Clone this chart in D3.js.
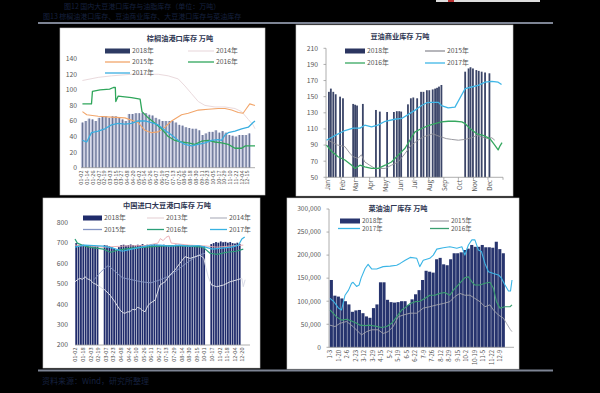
<!DOCTYPE html>
<html>
<head>
<meta charset="utf-8">
<script src="https://cdn.jsdelivr.net/npm/d3@7"></script>
<style>
  body { margin: 0; background: #000; }
  svg { display: block; font-family: "Noto Sans CJK SC", "Noto Sans", sans-serif; }
</style>
</head>
<body>
<div id="root"></div>
<script>
// ---- chart 1: palm oil port stocks (万吨) ----
const PALM_TICKS = ['01-02', '01-14', '01-26', '02-07', '02-19', '03-03', '03-15', '03-27', '04-08', '04-20',
  '05-02', '05-14', '05-26', '06-07', '06-19', '07-01', '07-13', '07-25', '08-06', '08-18',
  '08-30', '09-11', '09-23', '10-05', '10-17', '10-29', '11-10', '11-22', '12-04', '12-15'];
const PALM_Y_TICKS = [0, 20, 40, 60, 80, 100, 120, 140];
// weekly bars, first one on day 3
const PALM_2018 = [58, 60, 63, 62, 60, 64, 66, 66, 64, 66, 66, 65, 62, 60, 69, 69, 70, 70, 71, 70,
  68, 67, 64, 62, 60, 60, 60, 60, 58, 55, 54, 52, 51, 50, 50, 48, 42, 44, 46, 46,
  48, 45, 47, 45, 42, 41, 40, 42, 42, 42, 44];
// [day of year, value]
const PALM_2014 = [[3, 112], [36, 116], [64, 118], [106, 120], [134, 120], [162, 120], [183, 118], [204, 114],
  [218, 105], [232, 95], [246, 85], [260, 80], [281, 78], [302, 78], [323, 76], [337, 72], [351, 62], [361, 55], [365, 50]];
const PALM_2015 = [[3, 72], [12, 68], [36, 66], [64, 65], [92, 64], [120, 58], [134, 48], [148, 45], [162, 46],
  [176, 52], [190, 60], [211, 68], [225, 70], [246, 74], [267, 75], [288, 76], [302, 76], [316, 74],
  [330, 71], [340, 70], [347, 76], [354, 82], [365, 80]];
const PALM_2016 = [[3, 82], [22, 82], [24, 98], [40, 100], [60, 101], [68, 103], [72, 103], [73, 85], [78, 92],
  [106, 90], [124, 88], [128, 72], [141, 64], [155, 57], [169, 50], [183, 40], [197, 35], [211, 33],
  [225, 32], [239, 30], [253, 34], [267, 35], [281, 33], [295, 32], [309, 30], [323, 25], [337, 25], [345, 28], [365, 28]];
const PALM_2017 = [[3, 35], [12, 33], [22, 45], [36, 47], [50, 50], [64, 55], [78, 57], [92, 56], [106, 57],
  [120, 60], [134, 60], [148, 58], [162, 55], [176, 48], [190, 42], [204, 35], [218, 30], [232, 28],
  [246, 30], [260, 32], [274, 35], [288, 36], [295, 35], [302, 42], [309, 45], [323, 47], [337, 50],
  [351, 52], [361, 58], [365, 60]];

// ---- chart 2: soybean oil commercial stocks (万吨) ----
const MONTHS = ['Jan', 'Feb', 'Mar', 'Apr', 'May', 'Jun', 'Jul', 'Aug', 'Sep', 'Oct', 'Nov', 'Dec'];
const SOY_OIL_Y_TICKS = [50, 70, 90, 110, 130, 150, 170, 190, 210];
const SOY_OIL_BAR_DAYS = [6, 10, 15, 20, 29, 35, 56, 60, 64, 76, 103, 111, 126, 140, 146, 151, 155, 169, 175, 180,
  188, 196, 201, 208, 213, 220, 225, 229, 233, 238, 287, 294, 298, 303, 310, 315, 321, 328, 337];
const SOY_OIL_2018 = [156, 160, 156, 153, 150, 148, 141, 140, 139, 141, 133.5, 131.5, 131, 131, 132, 132, 131.5, 140.5, 148, 149,
  148, 156, 156, 158, 158, 159, 160, 161, 162.5, 164.5, 181, 185, 186.5, 185, 183, 182, 181, 180, 179];
const SOY_OIL_2015 = [[4, 96], [24, 90], [39, 88], [49, 80], [56, 75.5], [66, 73.5], [73, 78], [80, 69], [90, 65],
  [101, 61], [111, 61], [122, 61], [135, 65], [149, 69], [163, 79.6], [176, 90], [190, 96], [200, 100],
  [211, 102], [221, 104], [228, 102], [238, 100], [248, 98], [259, 97], [273, 96], [287, 97], [300, 99],
  [311, 102], [321, 100], [331, 98], [342, 99], [348, 96]];
const SOY_OIL_2016 = [[1, 90], [12, 82], [25, 75.5], [39, 71.5], [53, 65], [60, 61], [70, 65], [80, 63], [94, 61],
  [108, 61], [122, 65], [135, 69], [149, 77.5], [163, 86], [173, 96], [183, 106], [197, 110.5], [211, 114],
  [225, 116.5], [238, 118.7], [252, 119.5], [266, 119.5], [280, 118.7], [287, 116.5], [297, 110.5],
  [311, 104], [324, 102], [338, 98], [348, 90], [355, 84], [358, 88], [363, 93]];
const SOY_OIL_2017 = [[1, 96], [19, 102], [39, 108], [56, 111], [70, 111], [80, 114.6], [94, 112.5], [108, 115],
  [122, 119.5], [142, 122], [156, 123], [170, 128], [183, 133], [197, 139], [208, 142.5], [218, 143],
  [232, 143], [238, 139], [252, 136], [266, 137], [276, 148], [287, 160], [300, 162], [314, 164],
  [328, 168], [342, 169], [355, 168], [362, 165]];

// ---- chart 3: imported soybean port stocks (万吨) ----
const BEAN_TICKS = ['01-02', '01-18', '02-03', '02-19', '03-07', '03-23', '04-08', '04-24', '05-10', '05-26',
  '06-11', '06-27', '07-13', '07-29', '08-14', '08-30', '09-15', '10-01', '10-17', '11-02', '11-18', '12-04', '12-20'];
const BEAN_Y_TICKS = [200, 300, 400, 500, 600, 700, 800];
// one bar every 5 days, null = no report
const BEAN_2018 = [700, 690, 688, 692, 690, 685, 688, 690, 686, 684,
  null, null,
  690, 688, 685, 680, 672, 668, 680, 690, 692, 688, 690, 693, 690, 688, 692, 690, 695, 690, 692, 688,
  690, 694, 692, 690, 688, 692, 690, 688, 686, 690, 692, 688, 690, 685, 688, 690, 686, 688, 684, 686,
  688, 685, 684,
  null, null,
  695, 700, 705, 702, 708, 704, 706, 702, 705, 700, 698, 702, 696];
const BEAN_2013 = [[0, 690], [30, 685], [60, 680], [100, 685], [150, 688], [175, 700], [180, 722], [186, 712],
  [192, 728], [198, 735], [203, 700], [240, 690], [275, 686], [300, 680], [340, 688], [355, 690]];
const BEAN_2014 = [[0, 510], [5, 520], [10, 527], [16, 522], [21, 535], [26, 525], [32, 519], [39, 503], [44, 498],
  [63, 470], [74, 445], [84, 412], [95, 372], [100, 360], [105, 355], [110, 362], [116, 363], [121, 375],
  [127, 372], [132, 385], [137, 380], [142, 370], [148, 363], [153, 390], [158, 404], [169, 420],
  [179, 494], [190, 510], [200, 543], [211, 568], [221, 600], [232, 633], [243, 625], [253, 633],
  [264, 641], [272, 625], [276, 580], [281, 535], [288, 494], [299, 486], [313, 494], [327, 510],
  [341, 519], [352, 527], [355, 486], [359, 520]];
const BEAN_2015 = [[40, 520], [55, 560], [70, 590], [85, 560], [100, 530], [120, 520], [140, 510], [160, 505],
  [180, 520], [200, 540], [220, 575], [240, 610], [260, 640], [274, 650]];
const BEAN_2016 = [[0, 720], [5, 700], [15, 690], [30, 680], [45, 675], [60, 670], [75, 655], [90, 665],
  [105, 670], [120, 675], [150, 680], [180, 685], [210, 688], [240, 685], [270, 680], [285, 650],
  [300, 645], [320, 655], [340, 660], [355, 670]];
const BEAN_2017 = [[0, 680], [20, 690], [40, 688], [60, 685], [80, 675], [100, 660], [120, 670], [140, 680],
  [160, 690], [180, 690], [200, 685], [220, 690], [240, 685], [260, 688], [275, 680], [290, 670],
  [310, 675], [330, 680], [345, 690], [352, 720], [358, 730]];

// ---- chart 4: rapeseed oil mill stocks (吨) ----
const RAPE_TICKS = ['1-3', '1-20', '2-6', '2-23', '3-12', '3-29', '4-15', '5-2', '5-19', '6-5', '6-22',
  '7-9', '7-26', '8-12', '8-29', '9-15', '10-2', '10-19', '11-5', '11-22', '12-9'];
const RAPE_Y_TICKS = [0, 50000, 100000, 150000, 200000, 250000, 300000];
// weekly bars, first one on day 2
const RAPE_2018 = [146000, 112000, 110000, 106000, 100000, 93000, 77000, 80000, 81000, 74000,
  67000, 64000, 85000, 93000, 141000, 141000, 103000, 98000, 97000, 98000,
  100000, 100000, 92000, 104000, 115000, 124000, 146000, 166000, 164000, 162000,
  191000, 194000, 180000, 178000, 191000, 204000, 204000, 206000, 211000, 214000,
  222000, 218000, 218000, 222000, 217000, 217000, 216000, 229000, 213000, 204000];
const RAPE_2015 = [[2, 48000], [12, 45000], [22, 52000], [35, 56000], [48, 45000], [58, 34000], [65, 27000],
  [75, 34000], [85, 38000], [98, 38000], [108, 30000], [118, 34000], [128, 45000], [138, 66000],
  [148, 70000], [162, 74000], [175, 74000], [188, 85000], [201, 88000], [215, 92000], [228, 95000],
  [241, 99000], [251, 110000], [261, 117000], [271, 113000], [281, 113000], [291, 106000],
  [301, 99000], [311, 88000], [321, 92000], [328, 81000], [338, 70000], [348, 63000], [354, 52000],
  [362, 38000], [365, 34000]];
const RAPE_2016 = [[2, 81000], [15, 66000], [25, 59000], [35, 61000], [45, 57000], [55, 52000], [62, 48000],
  [72, 47000], [82, 48000], [92, 46000], [105, 43000], [115, 45000], [125, 52000], [135, 66000],
  [145, 81000], [152, 86000], [162, 95000], [172, 99000], [181, 100000], [191, 106000], [201, 113000],
  [211, 113000], [221, 117000], [231, 119000], [241, 113000], [248, 124000], [255, 132000],
  [261, 139000], [271, 151000], [278, 153000], [285, 142000], [291, 135000], [301, 135000],
  [311, 139000], [321, 141000], [328, 128000], [334, 99000], [341, 85000], [351, 88000], [361, 88000], [365, 92000]];
const RAPE_2017 = [[2, 106000], [9, 100000], [19, 85000], [25, 81000], [32, 113000], [39, 124000], [45, 139000],
  [48, 141000], [55, 132000], [60, 135000], [64, 150000], [72, 171000], [78, 180000], [85, 170000],
  [95, 170000], [108, 175000], [122, 176000], [135, 178000], [142, 182000], [152, 189000], [162, 195000],
  [175, 193000], [181, 175000], [188, 189000], [201, 193000], [208, 200000], [215, 213000], [228, 216000],
  [241, 218000], [255, 215000], [265, 218000], [271, 200000], [278, 222000], [285, 233000], [291, 233000],
  [298, 211000], [304, 208000], [311, 182000], [318, 164000], [328, 160000], [338, 157000], [344, 150000],
  [351, 135000], [358, 122000], [362, 122000], [365, 146000]];

const AXIS_TEXT = '#555';
const DIM_TEXT = '#16213f';
const parseMD = d3.timeParse('%m-%d');
const dayOf = s => {
  const t = parseMD(s);
  return d3.timeDay.count(d3.timeYear(t), t);
};

const svg = d3.select('#root')
  .append('svg')
  .attr('width', 600)
  .attr('height', 393);

svg.append('rect').attr('width', 600).attr('height', 393).attr('fill', '#000');

// page furniture: dim report captions and rules
svg.append('rect').attr('x', 436).attr('y', 0).attr('width', 104).attr('height', 2).attr('fill', '#ddd');
svg.append('rect').attr('x', 448).attr('y', 0).attr('width', 6).attr('height', 2).attr('fill', '#b33');
svg.append('text').attr('x', 64).attr('y', 9).attr('font-size', 7).attr('fill', DIM_TEXT)
  .text('图12  国内大豆港口库存与油脂库存（单位：万吨）');
svg.append('text').attr('x', 43).attr('y', 19).attr('font-size', 7).attr('fill', DIM_TEXT)
  .text('图13      棕榈油港口库存、豆油商业库存、大豆港口库存与菜油库存');
svg.append('rect').attr('x', 38).attr('y', 22).attr('width', 515).attr('height', 2).attr('fill', '#7d8494');
svg.append('rect').attr('x', 38).attr('y', 369.5).attr('width', 515).attr('height', 2).attr('fill', '#7d8494');
svg.append('text').attr('x', 42).attr('y', 384).attr('font-size', 8).attr('fill', DIM_TEXT)
  .text('资料来源：Wind，研究所整理');

function panel(box) {
  const g = svg.append('g');
  g.append('rect')
    .attr('x', box.x).attr('y', box.y)
    .attr('width', box.w).attr('height', box.h)
    .attr('fill', '#fff')
    .attr('stroke', '#c8c8c8')
    .attr('stroke-width', 0.6);
  return g;
}

function title(g, x, y, text) {
  g.append('text')
    .attr('x', x).attr('y', y)
    .attr('text-anchor', 'middle')
    .attr('font-size', 7.2)
    .attr('font-weight', 'bold')
    .attr('fill', '#2e3652')
    .text(text);
}

function yLabels(g, y, ticks, x, fmt, size = 6.8) {
  g.selectAll(null).data(ticks).enter()
    .append('text')
    .attr('x', x)
    .attr('y', d => y(d))
    .attr('dy', '0.35em')
    .attr('text-anchor', 'end')
    .attr('font-size', size)
    .attr('fill', AXIS_TEXT)
    .text(fmt);
}

function xLabels(g, x, labels, pos, y, size) {
  g.selectAll(null).data(labels).enter()
    .append('text')
    .attr('transform', (d, i) => `translate(${x(pos(d, i))}, ${y}) rotate(-90)`)
    .attr('dy', '0.35em')
    .attr('text-anchor', 'end')
    .attr('font-size', size)
    .attr('fill', AXIS_TEXT)
    .text(d => d);
}

function hline(g, x1, x2, y, color = '#9a9a9a') {
  g.append('line')
    .attr('x1', x1).attr('x2', x2).attr('y1', y).attr('y2', y)
    .attr('stroke', color).attr('stroke-width', 0.8);
}

function series(g, x, y, data, color, width = 1.1) {
  g.append('path')
    .datum(data)
    .attr('fill', 'none')
    .attr('stroke', color)
    .attr('stroke-width', width)
    .attr('stroke-linejoin', 'round')
    .attr('d', d3.line().x(d => x(d[0])).y(d => y(d[1])));
}

function legend(g, items, size = 6.8) {
  items.forEach(it => {
    if (it.type === 'bar') {
      g.append('rect')
        .attr('x', it.x).attr('y', it.y - 2.5)
        .attr('width', it.w).attr('height', 5)
        .attr('fill', it.color);
    } else {
      g.append('line')
        .attr('x1', it.x).attr('x2', it.x + it.w)
        .attr('y1', it.y).attr('y2', it.y)
        .attr('stroke', it.color).attr('stroke-width', 1.3);
    }
    g.append('text')
      .attr('x', it.x + it.w + 2)
      .attr('y', it.y)
      .attr('dy', '0.35em')
      .attr('font-size', size)
      .attr('fill', AXIS_TEXT)
      .text(it.label);
  });
}

// ---------- chart 1 ----------
(function palmChart() {
  const g = panel({ x: 60, y: 28, w: 205, h: 167 });
  const x = d3.scaleLinear([0, 365], [81, 255]);
  const y = d3.scaleLinear([0, 140], [167.7, 58.7]);
  title(g, 180, 41, '棕榈油港口库存 万吨');
  yLabels(g, y, PALM_Y_TICKS, 77, d => d);

  // each weekly bar: pale body with a darker core, as in the printed chart
  const bars = g.append('g');
  PALM_2018.forEach((v, i) => {
    const cx = x(3 + i * 7);
    bars.append('rect')
      .attr('x', cx - 1.5).attr('y', y(v))
      .attr('width', 2.9).attr('height', y(0) - y(v))
      .attr('fill', '#bcc0d8');
    bars.append('rect')
      .attr('x', cx - 0.4).attr('y', y(v))
      .attr('width', 1.1).attr('height', y(0) - y(v))
      .attr('fill', '#667293');
  });
  hline(g, 81, 255, y(0));

  series(g, x, y, PALM_2014, '#eadadd', 1);
  series(g, x, y, PALM_2015, '#f2a66b');
  series(g, x, y, PALM_2016, '#2fa65b', 1.3);
  series(g, x, y, PALM_2017, '#3aaee0', 1.3);

  xLabels(g, x, PALM_TICKS, d => dayOf(d), 170.5, 5.6);

  legend(g, [
    { type: 'bar', label: '2018年', color: '#2d3a63', x: 105, y: 51, w: 25 },
    { type: 'line', label: '2014年', color: '#ecdfe2', x: 188, y: 51, w: 26 },
    { type: 'line', label: '2015年', color: '#f2a66b', x: 105, y: 62, w: 25 },
    { type: 'line', label: '2016年', color: '#2fa65b', x: 188, y: 62, w: 26 },
    { type: 'line', label: '2017年', color: '#3aaee0', x: 105, y: 73, w: 25 },
  ]);
})();

// ---------- chart 2 ----------
(function soyOilChart() {
  const g = panel({ x: 296, y: 25, w: 217, h: 171 });
  const x = d3.scaleLinear([0, 365], [326, 503]);
  const y = d3.scaleLinear([50, 210], [177.3, 48.3]);
  title(g, 400, 39, '豆油商业库存 万吨');
  yLabels(g, y, SOY_OIL_Y_TICKS, 318, d => d);

  g.append('line')
    .attr('x1', 326).attr('x2', 326).attr('y1', y(210)).attr('y2', y(50))
    .attr('stroke', '#9a9a9a').attr('stroke-width', 0.8);
  g.selectAll(null).data(SOY_OIL_Y_TICKS).enter()
    .append('line')
    .attr('x1', 323.5).attr('x2', 326)
    .attr('y1', d => y(d)).attr('y2', d => y(d))
    .attr('stroke', '#9a9a9a').attr('stroke-width', 0.8);

  g.selectAll(null).data(SOY_OIL_2018).enter()
    .append('rect')
    .attr('x', (d, i) => x(SOY_OIL_BAR_DAYS[i]) - 0.9)
    .attr('y', d => y(d))
    .attr('width', 1.8)
    .attr('height', d => y(50) - y(d))
    .attr('fill', '#3b4568');
  hline(g, 326, 503, y(50));

  const monthStart = m => d3.timeDay.count(new Date(2018, 0, 1), new Date(2018, m, 1));
  g.selectAll(null).data(d3.range(13)).enter()
    .append('line')
    .attr('x1', m => x(Math.min(365, monthStart(m))))
    .attr('x2', m => x(Math.min(365, monthStart(m))))
    .attr('y1', y(50)).attr('y2', y(50) + 2.5)
    .attr('stroke', '#9a9a9a').attr('stroke-width', 0.8);

  series(g, x, y, SOY_OIL_2015, '#8e8e96', 0.9);
  series(g, x, y, SOY_OIL_2016, '#36a860', 1.3);
  series(g, x, y, SOY_OIL_2017, '#3fb6e6', 1.3);

  xLabels(g, x, MONTHS, (d, i) => monthStart(i) + 3, 180, 6.2);

  legend(g, [
    { type: 'bar', label: '2018年', color: '#2b3560', x: 345, y: 51, w: 20 },
    { type: 'line', label: '2015年', color: '#8e8e96', x: 425, y: 51, w: 20 },
    { type: 'line', label: '2016年', color: '#36a860', x: 345, y: 63, w: 20 },
    { type: 'line', label: '2017年', color: '#3fb6e6', x: 425, y: 63, w: 20 },
  ]);
})();

// ---------- chart 3 ----------
(function beanChart() {
  const g = panel({ x: 43, y: 198, w: 217, h: 170 });
  const x = d3.scaleLinear([0, 365], [75, 248]);
  const y = d3.scaleLinear([200, 800], [345, 222.7]);
  title(g, 167, 208, '中国进口大豆港口库存 万吨');
  yLabels(g, y, BEAN_Y_TICKS, 68, d => d);

  g.selectAll(null).data(BEAN_2018.map((v, i) => [i * 5 + 2.5, v]).filter(d => d[1] !== null)).enter()
    .append('rect')
    .attr('x', d => x(d[0]) - 0.9)
    .attr('y', d => y(d[1]))
    .attr('width', 1.8)
    .attr('height', d => y(200) - y(d[1]))
    .attr('fill', '#1f2b6b');
  hline(g, 75, 250, y(200));

  series(g, x, y, BEAN_2013, '#eaa9b0', 0.9);
  series(g, x, y, BEAN_2015, '#8495c4', 0.9);
  series(g, x, y, BEAN_2016, '#2b9f78', 1.2);
  series(g, x, y, BEAN_2017, '#38b2e2', 1.2);
  series(g, x, y, BEAN_2014, '#d9dbe6', 1);

  xLabels(g, x, BEAN_TICKS, d => dayOf(d), 347.5, 5.6);

  legend(g, [
    { type: 'bar', label: '2018年', color: '#1f2b6b', x: 83, y: 218, w: 19 },
    { type: 'line', label: '2013年', color: '#ead8db', x: 147, y: 218, w: 17 },
    { type: 'line', label: '2014年', color: '#b8bac4', x: 210, y: 218, w: 17 },
    { type: 'line', label: '2015年', color: '#8495c4', x: 83, y: 229.5, w: 19 },
    { type: 'line', label: '2016年', color: '#2b9f78', x: 147, y: 229.5, w: 17 },
    { type: 'line', label: '2017年', color: '#38b2e2', x: 210, y: 229.5, w: 17 },
  ]);
})();

// ---------- chart 4 ----------
(function rapeChart() {
  const g = panel({ x: 287, y: 198, w: 232, h: 171 });
  const x = d3.scaleLinear([0, 365], [329, 512]);
  const y = d3.scaleLinear([0, 300000], [347.3, 209]);
  title(g, 398, 211, '菜油油厂库存 万吨');
  yLabels(g, y, RAPE_Y_TICKS, 321, d3.format(','), 6.6);

  g.append('line')
    .attr('x1', 329).attr('x2', 329).attr('y1', y(300000)).attr('y2', y(0))
    .attr('stroke', '#9a9a9a').attr('stroke-width', 0.8);
  g.selectAll(null).data(RAPE_Y_TICKS).enter()
    .append('line')
    .attr('x1', 326.5).attr('x2', 329)
    .attr('y1', d => y(d)).attr('y2', d => y(d))
    .attr('stroke', '#9a9a9a').attr('stroke-width', 0.8);

  g.selectAll(null).data(RAPE_2018).enter()
    .append('rect')
    .attr('x', (d, i) => x(2 + i * 7) - 0.2)
    .attr('y', d => y(d))
    .attr('width', 3.1)
    .attr('height', d => y(0) - y(d))
    .attr('fill', '#27346e');
  hline(g, 329, 514, y(0));

  series(g, x, y, RAPE_2015, '#a3a3ab', 0.9);
  series(g, x, y, RAPE_2016, '#3a9e70', 1.1);
  series(g, x, y, RAPE_2017, '#3ab5e6', 1.1);

  xLabels(g, x, RAPE_TICKS, d => dayOf(d.split('-').map(s => s.padStart(2, '0')).join('-')), 350, 5.8);

  legend(g, [
    { type: 'bar', label: '2018年', color: '#27346e', x: 340, y: 221, w: 20 },
    { type: 'line', label: '2015年', color: '#a3a3ab', x: 430, y: 221, w: 19 },
    { type: 'line', label: '2017年', color: '#3ab5e6', x: 338, y: 228.5, w: 22 },
    { type: 'line', label: '2016年', color: '#3a9e70', x: 430, y: 228.5, w: 19 },
  ], 6.4);
})();
</script>
</body>
</html>
